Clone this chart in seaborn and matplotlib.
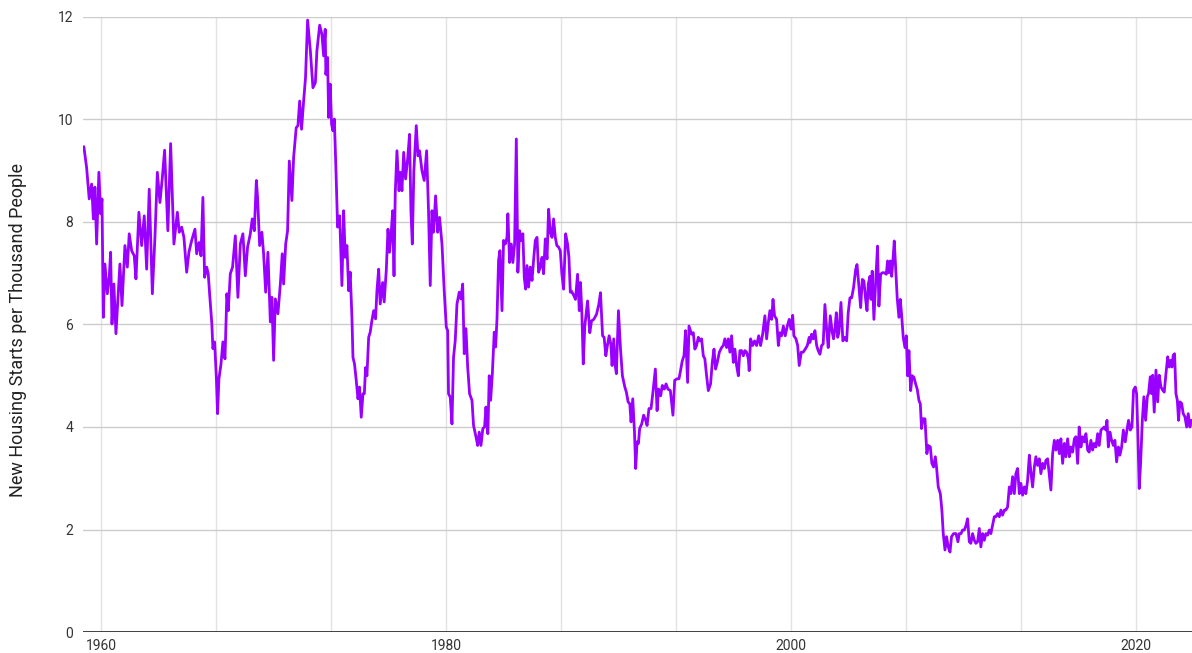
import pandas as pd
import matplotlib.pyplot as plt
import seaborn as sns

# Housing starts per thousand people (fractional years)
years_59_66 = [1959.01, 1959.17, 1959.32, 1959.46, 1959.56, 1959.65, 1959.75, 1959.88, 1959.98,
               1960.06, 1960.14, 1960.23, 1960.37, 1960.48, 1960.56, 1960.64, 1960.75, 1960.87,
               1961.00, 1961.10, 1961.22, 1961.39, 1961.53, 1961.64, 1961.78, 1961.93,
               1962.03, 1962.20, 1962.36, 1962.51, 1962.65, 1962.80, 1962.98,
               1963.13, 1963.27, 1963.42, 1963.56, 1963.69, 1963.77, 1963.88,
               1964.04, 1964.23, 1964.43, 1964.54, 1964.68, 1964.81, 1964.97,
               1965.10, 1965.26, 1965.45, 1965.55, 1965.68, 1965.80, 1965.91,
               1966.01, 1966.13, 1966.22]
starts_59_66 = [9.47, 9.06, 8.45, 8.74, 8.06, 8.68, 7.57, 8.97, 8.16,
                8.45, 6.14, 7.18, 6.6, 6.92, 7.41, 6.01, 6.79, 5.82,
                6.6, 7.18, 6.37, 7.54, 7.12, 7.77, 7.44, 7.34,
                6.89, 8.19, 7.54, 8.12, 7.08, 8.64, 6.6,
                7.7, 8.97, 8.38, 8.87, 9.4, 8.74, 7.83,
                9.53, 7.57, 8.19, 7.8, 7.9, 7.7, 7.02,
                7.41, 7.64, 7.86, 7.38, 7.6, 7.34, 8.48,
                6.92, 7.12, 6.99]

years_66_73 = [1966.30, 1966.43, 1966.49, 1966.59, 1966.69, 1966.76, 1966.84, 1966.96,
               1967.07, 1967.19, 1967.30, 1967.38, 1967.50, 1967.63, 1967.79, 1967.94,
               1968.08, 1968.23, 1968.37, 1968.50, 1968.66, 1968.77, 1968.89,
               1969.01, 1969.08, 1969.20, 1969.33, 1969.43, 1969.55, 1969.68, 1969.82, 1969.91,
               1970.01, 1970.11, 1970.26, 1970.40, 1970.51, 1970.59, 1970.71, 1970.82, 1970.92,
               1971.07, 1971.17, 1971.32, 1971.42, 1971.52, 1971.63, 1971.75, 1971.86, 1971.98,
               1972.14, 1972.29, 1972.43, 1972.52, 1972.68, 1972.81, 1972.91, 1973.00]
starts_66_73 = [6.6, 6.01, 5.53, 5.66, 4.97, 4.26, 4.94, 5.23,
                5.66, 5.33, 6.6, 6.27, 6.99, 7.12, 7.73, 6.53,
                7.57, 7.77, 6.95, 7.51, 7.77, 8.06, 7.83,
                8.81, 8.48, 7.54, 7.8, 7.38, 6.63, 7.41, 6.05, 6.53,
                5.3, 6.5, 6.21, 6.79, 7.38, 6.79, 7.57, 7.83, 9.19,
                8.42, 9.26, 9.84, 9.88, 10.36, 9.81, 10.36, 10.82, 11.94,
                11.34, 10.62, 10.72, 11.34, 11.84, 11.66, 11.24, 11.76]

years_73_80 = [1973.04, 1973.14, 1973.20, 1973.29, 1973.37, 1973.45, 1973.53, 1973.62, 1973.72, 1973.84, 1973.97,
               1974.07, 1974.16, 1974.26, 1974.36, 1974.45, 1974.55, 1974.61, 1974.70, 1974.80, 1974.90, 1974.99,
               1975.09, 1975.19, 1975.27, 1975.34, 1975.42, 1975.52, 1975.61, 1975.71, 1975.81, 1975.92,
               1976.00, 1976.10, 1976.19, 1976.33, 1976.42, 1976.54, 1976.64, 1976.73, 1976.83, 1976.91, 1976.99,
               1977.06, 1977.16, 1977.28, 1977.35, 1977.45, 1977.55, 1977.66, 1977.78, 1977.89, 1977.97,
               1978.05, 1978.14, 1978.28, 1978.38, 1978.47, 1978.61, 1978.74, 1978.88, 1978.99,
               1979.09, 1979.19, 1979.28, 1979.40, 1979.52, 1979.63, 1979.77, 1979.90,
               1980.02, 1980.10]
starts_73_80 = [10.88, 11.21, 10.04, 10.69, 9.91, 9.78, 10.01, 9.06, 7.9, 8.12, 6.76,
                8.22, 7.31, 7.54, 6.66, 7.02, 6.14, 5.36, 5.23, 4.91, 4.55, 4.78,
                4.19, 4.65, 4.65, 5.16, 5.0, 5.75, 5.85, 6.08, 6.27, 6.11,
                6.66, 7.08, 6.4, 6.82, 6.44, 7.05, 7.86, 7.41, 7.8, 8.22, 6.95,
                8.55, 9.39, 8.61, 8.97, 8.61, 9.36, 8.84, 9.23, 9.71, 8.22,
                7.57, 9.0, 9.88, 9.29, 9.39, 9.0, 8.81, 9.39, 8.22,
                6.76, 8.22, 7.8, 8.51, 7.8, 8.09, 7.57, 6.66,
                5.95, 5.88]

years_80_87 = [1980.15, 1980.25, 1980.35, 1980.44, 1980.54, 1980.64, 1980.77, 1980.87, 1980.97,
               1981.06, 1981.16, 1981.26, 1981.37, 1981.51, 1981.60, 1981.74, 1981.84, 1981.93,
               1982.03, 1982.14, 1982.24, 1982.32, 1982.38, 1982.43, 1982.51, 1982.59, 1982.69, 1982.80, 1982.88, 1982.96,
               1983.05, 1983.13, 1983.25, 1983.34, 1983.44, 1983.54, 1983.59, 1983.69, 1983.79, 1983.88, 1983.98,
               1984.08, 1984.17, 1984.27, 1984.37, 1984.46, 1984.54, 1984.62, 1984.70, 1984.79, 1984.89, 1984.99,
               1985.08, 1985.18, 1985.28, 1985.37, 1985.47, 1985.57, 1985.66, 1985.76, 1985.86, 1985.95,
               1986.05, 1986.15, 1986.24, 1986.34, 1986.43, 1986.53, 1986.63, 1986.72, 1986.82, 1986.94,
               1987.05, 1987.13, 1987.21]
starts_80_87 = [4.65, 4.58, 4.06, 5.36, 5.69, 6.4, 6.63, 6.5, 6.79,
                5.43, 5.92, 5.17, 4.65, 4.52, 4.03, 3.81, 3.64, 3.9,
                3.64, 3.97, 4.0, 4.39, 4.06, 3.87, 5.0, 4.52, 5.04, 5.85, 5.56, 6.11,
                7.25, 7.44, 6.27, 7.64, 7.57, 7.7, 8.16, 7.21, 7.57, 7.21, 7.57,
                9.62, 7.02, 7.83, 7.64, 7.77, 6.92, 6.69, 7.15, 6.73, 7.12, 6.86,
                7.25, 7.64, 7.7, 7.02, 7.12, 7.31, 6.99, 7.67, 7.28, 8.25,
                7.8, 7.7, 8.06, 7.7, 7.54, 7.51, 7.44, 6.99, 6.69, 7.77,
                7.57, 7.31, 6.63]

years_87_94 = [1987.28, 1987.42, 1987.51, 1987.63, 1987.73, 1987.80, 1987.88, 1987.96,
               1988.05, 1988.21, 1988.34, 1988.44, 1988.57, 1988.73, 1988.86, 1988.96,
               1989.08, 1989.17, 1989.27, 1989.36, 1989.46, 1989.56, 1989.63, 1989.73, 1989.81, 1989.88,
               1990.00, 1990.12, 1990.23, 1990.37, 1990.46, 1990.56, 1990.66, 1990.73, 1990.83, 1990.93,
               1991.00, 1991.08, 1991.16, 1991.23, 1991.35, 1991.46, 1991.58, 1991.66, 1991.77, 1991.89,
               1992.00, 1992.14, 1992.24, 1992.33, 1992.45, 1992.54, 1992.66, 1992.76, 1992.87,
               1993.01, 1993.16, 1993.26, 1993.39, 1993.51, 1993.60, 1993.70, 1993.80, 1993.89,
               1994.01, 1994.09]
starts_87_94 = [6.65, 6.56, 6.49, 6.98, 6.27, 6.82, 6.23, 5.23,
                5.97, 6.46, 5.84, 6.07, 6.1, 6.2, 6.39, 6.62,
                5.78, 5.75, 5.39, 5.59, 5.78, 5.62, 5.2, 5.72, 5.2, 5.04,
                6.27, 5.52, 5.0, 4.78, 4.68, 4.49, 4.45, 4.1, 4.55, 3.9,
                3.19, 3.71, 3.68, 3.97, 4.06, 4.23, 4.13, 4.03, 4.36, 4.36,
                4.68, 5.13, 4.32, 4.74, 4.61, 4.81, 4.74, 4.84, 4.74,
                4.71, 4.23, 4.91, 4.94, 4.94, 5.1, 5.29, 5.39, 5.88,
                4.87, 5.97]

years_94_01 = [1994.24, 1994.34, 1994.43, 1994.53, 1994.63, 1994.72, 1994.82, 1994.92,
               1995.01, 1995.11, 1995.21, 1995.34, 1995.44, 1995.54, 1995.63, 1995.73, 1995.85, 1995.98,
               1996.08, 1996.17, 1996.27, 1996.37, 1996.46, 1996.56, 1996.66, 1996.75, 1996.85, 1996.95,
               1997.04, 1997.14, 1997.24, 1997.33, 1997.43, 1997.53, 1997.58, 1997.66, 1997.78, 1997.89,
               1998.01, 1998.13, 1998.24, 1998.36, 1998.49, 1998.59, 1998.69, 1998.78, 1998.88, 1998.96,
               1999.05, 1999.17, 1999.27, 1999.36, 1999.46, 1999.56, 1999.67, 1999.79, 1999.90,
               2000.00, 2000.10, 2000.17, 2000.29, 2000.39, 2000.48, 2000.60, 2000.71, 2000.83, 2000.95,
               2001.06]
starts_94_01 = [5.81, 5.84, 5.52, 5.59, 5.75, 5.68, 5.72, 5.39,
                5.33, 5.0, 4.71, 4.84, 5.26, 5.52, 5.13, 5.26, 5.46, 5.55,
                5.59, 5.72, 5.55, 5.72, 5.46, 5.78, 5.26, 5.52, 5.2, 5.0,
                5.49, 5.49, 5.39, 5.49, 5.46, 5.33, 5.1, 5.72, 5.59, 5.68,
                5.59, 5.78, 5.59, 5.81, 6.17, 5.72, 6.04, 6.27, 6.1, 6.49,
                6.17, 6.1, 5.59, 5.84, 5.78, 5.97, 5.78, 5.97, 6.1,
                5.91, 6.18, 5.78, 5.72, 5.59, 5.2, 5.46, 5.46, 5.52, 5.59,
                5.75]

years_01_08 = [2001.10, 2001.20, 2001.29, 2001.39, 2001.49, 2001.58, 2001.68, 2001.78, 2001.87, 2001.97,
               2002.07, 2002.16, 2002.28, 2002.40, 2002.47, 2002.55, 2002.63, 2002.71, 2002.78, 2002.90,
               2003.01, 2003.13, 2003.23, 2003.32, 2003.42, 2003.52, 2003.63, 2003.75, 2003.83, 2003.94,
               2004.04, 2004.14, 2004.23, 2004.33, 2004.41, 2004.48, 2004.58, 2004.64, 2004.71, 2004.81, 2004.91,
               2005.02, 2005.10, 2005.20, 2005.30, 2005.41, 2005.53, 2005.60, 2005.68, 2005.76, 2005.84, 2005.91, 2005.99,
               2006.07, 2006.16, 2006.26, 2006.34, 2006.42, 2006.51, 2006.61, 2006.69, 2006.76, 2006.84, 2006.94,
               2007.03, 2007.13, 2007.23, 2007.32, 2007.42, 2007.50, 2007.57, 2007.65, 2007.77, 2007.88, 2007.96]
starts_01_08 = [5.65, 5.81, 5.72, 5.88, 5.59, 5.49, 5.42, 5.59, 5.62, 6.39,
                5.91, 5.55, 6.17, 5.84, 5.72, 5.91, 6.23, 5.75, 5.84, 6.43,
                5.68, 5.75, 5.68, 6.23, 6.52, 6.52, 6.72, 7.07, 7.17, 6.75,
                6.33, 6.88, 6.85, 6.49, 6.27, 6.78, 6.94, 6.49, 7.04, 6.1, 6.82,
                7.53, 6.36, 6.98, 7.01, 7.01, 6.98, 7.24, 7.01, 7.24, 6.94, 7.24, 7.63,
                7.11, 6.52, 6.14, 6.49, 6.17, 5.75, 5.55, 5.78, 5.0, 5.49, 4.71,
                5.0, 4.97, 4.84, 4.74, 4.52, 4.45, 3.97, 4.16, 4.16, 3.48, 3.64]

years_08_15 = [2008.08, 2008.17, 2008.27, 2008.37, 2008.44, 2008.54, 2008.66, 2008.75, 2008.83, 2008.93,
               2009.02, 2009.12, 2009.22, 2009.31, 2009.43, 2009.57, 2009.68, 2009.76, 2009.86, 2009.95,
               2010.05, 2010.15, 2010.24, 2010.34, 2010.43, 2010.53, 2010.63, 2010.72, 2010.82, 2010.92,
               2011.01, 2011.11, 2011.21, 2011.30, 2011.40, 2011.50, 2011.59, 2011.69, 2011.79, 2011.88, 2011.98,
               2012.08, 2012.17, 2012.27, 2012.37, 2012.46, 2012.56, 2012.66, 2012.75, 2012.85, 2012.95,
               2013.04, 2013.14, 2013.24, 2013.33, 2013.43, 2013.53, 2013.62, 2013.72, 2013.82, 2013.91,
               2014.01, 2014.11, 2014.20, 2014.30, 2014.40, 2014.49, 2014.59, 2014.69, 2014.78, 2014.88]
starts_08_15 = [3.61, 3.29, 3.22, 3.42, 3.22, 2.83, 2.7, 2.38, 1.92, 1.6,
                1.86, 1.66, 1.56, 1.86, 1.92, 1.92, 1.76, 1.92, 1.92, 1.99,
                1.99, 2.08, 2.21, 1.76, 1.73, 1.92, 1.79, 1.73, 1.76, 2.02,
                1.66, 1.92, 1.79, 1.92, 1.89, 1.99, 1.92, 2.08, 2.25, 2.25, 2.31,
                2.25, 2.38, 2.28, 2.38, 2.38, 2.44, 2.83, 2.7, 3.03, 2.7,
                3.09, 3.19, 2.7, 2.9, 2.67, 2.83, 2.7, 2.96, 3.45, 3.12,
                2.83, 3.22, 3.42, 3.25, 3.38, 3.09, 3.29, 3.19, 3.35, 3.38]

years_15_23 = [2015.07, 2015.17, 2015.27, 2015.36, 2015.46, 2015.56, 2015.65, 2015.75, 2015.85, 2015.94,
               2016.04, 2016.14, 2016.23, 2016.33, 2016.43, 2016.52, 2016.62, 2016.71, 2016.81, 2016.91,
               2017.01, 2017.10, 2017.20, 2017.29, 2017.39, 2017.49, 2017.58, 2017.68, 2017.78, 2017.87, 2017.97,
               2018.07, 2018.16, 2018.26, 2018.32, 2018.40, 2018.49, 2018.59, 2018.69, 2018.78, 2018.88, 2018.98,
               2019.07, 2019.17, 2019.27, 2019.38, 2019.48, 2019.57, 2019.67, 2019.77, 2019.86, 2019.96,
               2020.04, 2020.12, 2020.19, 2020.27, 2020.37, 2020.46, 2020.56, 2020.66, 2020.73, 2020.83, 2020.91, 2020.97,
               2021.06, 2021.16, 2021.26, 2021.35, 2021.45, 2021.55, 2021.64, 2021.74, 2021.84, 2021.93,
               2022.01, 2022.09, 2022.16, 2022.24, 2022.32, 2022.40, 2022.47, 2022.55, 2022.65, 2022.74, 2022.84, 2022.94,
               2023.03, 2023.13, 2023.21]
starts_15_23 = [2.77, 3.48, 3.74, 3.55, 3.74, 3.48, 3.77, 3.29, 3.68, 3.42,
                3.77, 3.42, 3.61, 3.51, 3.77, 3.81, 3.29, 4.0, 3.61, 3.81,
                3.71, 3.87, 3.55, 3.51, 3.74, 3.55, 3.68, 3.61, 3.87, 3.64, 3.94,
                3.97, 4.0, 3.94, 4.13, 3.61, 3.9, 3.74, 3.64, 3.74, 3.32, 3.61,
                3.45, 3.61, 3.94, 3.71, 3.94, 4.13, 3.94, 4.0, 4.72, 4.78,
                4.65, 3.74, 2.8, 3.29, 4.13, 4.59, 4.13, 4.59, 4.65, 4.98, 4.65, 5.01,
                4.29, 5.11, 4.49, 5.01, 4.78, 4.72, 4.68, 5.04, 5.37, 5.17,
                5.3, 5.17, 5.4, 5.43, 4.65, 4.52, 4.13, 4.49, 4.46, 4.26, 4.2, 4.0,
                4.26, 4.0, 4.13]

# gridlines every 20/3 years, label every third one
grid_years = [1960 + k * 20 / 3 for k in range(10)]
grid_labels = ["1960", "", "", "1980", "", "", "2000", "", "", "2020"]
y_ticks = [0, 2, 4, 6, 8, 10, 12]


def build_df():
    years = (years_59_66 + years_66_73 + years_73_80 + years_80_87 + years_87_94
             + years_94_01 + years_01_08 + years_08_15 + years_15_23)
    starts = (starts_59_66 + starts_66_73 + starts_73_80 + starts_80_87 + starts_87_94
              + starts_94_01 + starts_01_08 + starts_08_15 + starts_15_23)
    return pd.DataFrame({"year": years, "starts": starts})


def plot_housing_starts(df):
    sns.set_style("white")
    plt.rcParams["font.family"] = ["Roboto", "DejaVu Sans"]

    fig = plt.figure(figsize=(11.92, 6.53), dpi=100)
    ax = fig.add_axes([83 / 1192, 21 / 653, 1 - 83 / 1192, 615 / 653])

    sns.lineplot(data=df, x="year", y="starts", color="#9900ff", linewidth=2.0,
                 estimator=None, sort=False, ax=ax)

    ax.set_xlim(1958.96, 2023.25)
    ax.set_ylim(0, 12)
    ax.set_xticks(grid_years)
    ax.set_xticklabels(grid_labels)
    ax.set_yticks(y_ticks)
    ax.set_yticklabels([str(t) for t in y_ticks])

    ax.grid(axis="x", color="#e3e3e3", linewidth=1.0)
    ax.grid(axis="y", color="#cccccc", linewidth=1.0)
    ax.set_axisbelow(True)
    ax.axhline(0, color="#333333", linewidth=1.3, zorder=1)
    for s in ax.spines.values():
        s.set_visible(False)
    ax.tick_params(axis="both", length=0, labelsize=10, labelcolor="#333333")
    ax.tick_params(axis="x", pad=5)
    ax.tick_params(axis="y", pad=7)

    ax.set_xlabel("")
    ax.set_ylabel("")
    fig.text(18 / 1192, 1 - 330 / 653, "New Housing Starts per Thousand People",
             rotation=90, ha="center", va="center", fontsize=13, color="#222222")

    fig.savefig("out.png", dpi=100)


def main():
    df = build_df()
    plot_housing_starts(df)


if __name__ == "__main__":
    main()
